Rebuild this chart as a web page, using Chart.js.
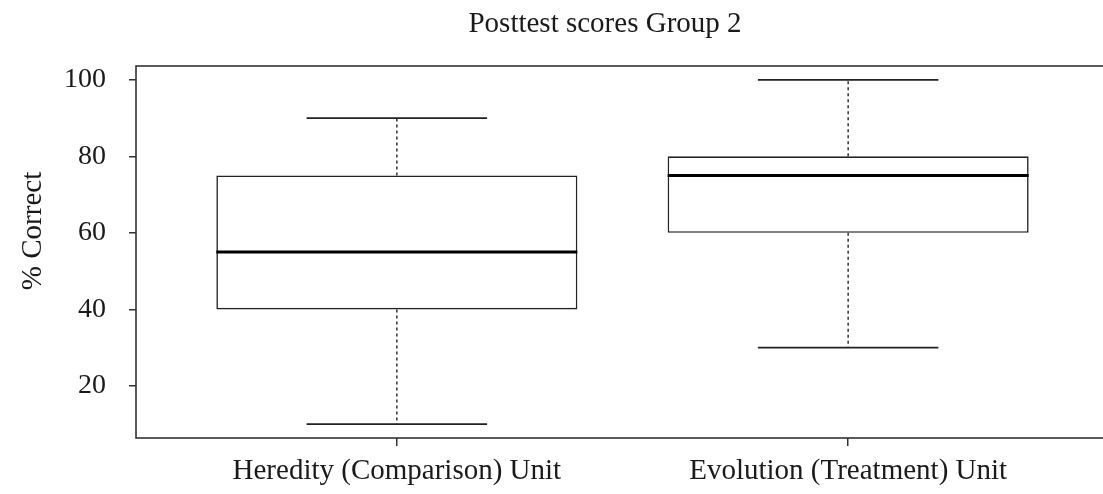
<!DOCTYPE html>
<html>
<head>
<meta charset="utf-8">
<script src="https://cdn.jsdelivr.net/npm/chart.js@4/dist/chart.umd.min.js"></script>
<style>
  html, body { margin: 0; padding: 0; background: #fff; overflow: hidden; }
</style>
</head>
<body>
<canvas id="out" width="1115" height="494"></canvas>
<script>
const groups = ["Heredity (Comparison) Unit", "Evolution (Treatment) Unit"];
const positions = [1, 2];
const whiskerLow = [10, 30];
const quartile1 = [40, 60];
const medians = [55, 75];
const quartile3 = [75, 80];
const whiskerHigh = [90, 100];
const yTicks = [20, 40, 60, 80, 100];

const chartTitle = "Posttest scores Group 2";
const yTitle = "% Correct";
const serif = "'Liberation Serif', 'Times New Roman', serif";

const boxExtras = {
  id: "boxExtras",
  afterDatasetsDraw(chart) {
    const ctx = chart.ctx;
    const xs = chart.scales.x;
    const ys = chart.scales.y;
    const bars = chart.getDatasetMeta(0).data;
    ctx.save();
    for (let i = 0; i < positions.length; i++) {
      const cx = xs.getPixelForValue(positions[i]);
      const half = bars[i].width / 2;
      // whiskers
      ctx.strokeStyle = "#222";
      ctx.lineWidth = 1.4;
      ctx.setLineDash([3, 3]);
      ctx.beginPath();
      ctx.moveTo(cx, ys.getPixelForValue(quartile3[i]));
      ctx.lineTo(cx, ys.getPixelForValue(whiskerHigh[i]));
      ctx.moveTo(cx, ys.getPixelForValue(quartile1[i]));
      ctx.lineTo(cx, ys.getPixelForValue(whiskerLow[i]));
      ctx.stroke();
      ctx.setLineDash([]);
      // caps
      ctx.lineWidth = 1.7;
      ctx.beginPath();
      ctx.moveTo(cx - half / 2, ys.getPixelForValue(whiskerHigh[i]));
      ctx.lineTo(cx + half / 2, ys.getPixelForValue(whiskerHigh[i]));
      ctx.moveTo(cx - half / 2, ys.getPixelForValue(whiskerLow[i]));
      ctx.lineTo(cx + half / 2, ys.getPixelForValue(whiskerLow[i]));
      ctx.stroke();
      // median
      ctx.strokeStyle = "#000";
      ctx.lineWidth = 3;
      ctx.beginPath();
      ctx.moveTo(cx - half, ys.getPixelForValue(medians[i]));
      ctx.lineTo(cx + half, ys.getPixelForValue(medians[i]));
      ctx.stroke();
    }
    // frame around plot
    const a = chart.chartArea;
    ctx.strokeStyle = "#333";
    ctx.lineWidth = 1.6;
    ctx.strokeRect(a.left, a.top, a.right - a.left, a.bottom - a.top);
    // titles
    ctx.fillStyle = "#1a1a1a";
    ctx.font = "29px " + serif;
    ctx.textAlign = "center";
    ctx.textBaseline = "alphabetic";
    ctx.fillText(chartTitle, 605, 32);
    ctx.translate(41, 231);
    ctx.rotate(-Math.PI / 2);
    ctx.fillText(yTitle, 0, 0);
    ctx.restore();
  }
};

const canvasCtx = document.getElementById("out").getContext("2d");
new Chart(canvasCtx, {
  type: "bar",
  data: {
    datasets: [{
      data: positions.map((p, i) => ({ x: p, y: [quartile1[i], quartile3[i]] })),
      backgroundColor: "#fff",
      borderColor: "#222",
      borderWidth: 1.6,
      borderSkipped: false,
      barPercentage: 0.8,
      categoryPercentage: 1.0
    }]
  },
  options: {
    responsive: false,
    animation: false,
    devicePixelRatio: 1,
    layout: { padding: { top: 66, right: 6, left: 0, bottom: 0 } },
    plugins: { legend: { display: false }, tooltip: { enabled: false } },
    scales: {
      x: {
        type: "linear",
        offset: false,
        min: 0.422,
        max: 2.578,
        afterBuildTicks(scale) { scale.ticks = positions.map(v => ({ value: v })); },
        afterFit(scale) { scale.height = 56; },
        grid: { offset: false, drawOnChartArea: false, drawTicks: true, tickLength: 8, color: "#333", lineWidth: 1.5 },
        border: { display: false },
        ticks: {
          color: "#1a1a1a",
          font: { family: serif, size: 29 },
          padding: 8,
          maxRotation: 0,
          autoSkip: false,
          callback: (v) => groups[positions.indexOf(v)]
        }
      },
      y: {
        min: 6.4,
        max: 103.6,
        afterBuildTicks(scale) { scale.ticks = yTicks.map(v => ({ value: v })); },
        afterFit(scale) { scale.width = 136; },
        grid: { drawOnChartArea: false, drawTicks: true, tickLength: 7, color: "#333", lineWidth: 1.5 },
        border: { display: false },
        ticks: {
          color: "#1a1a1a",
          font: { family: serif, size: 28 },
          padding: 23
        }
      }
    }
  },
  plugins: [boxExtras]
});
</script>
</body>
</html>
